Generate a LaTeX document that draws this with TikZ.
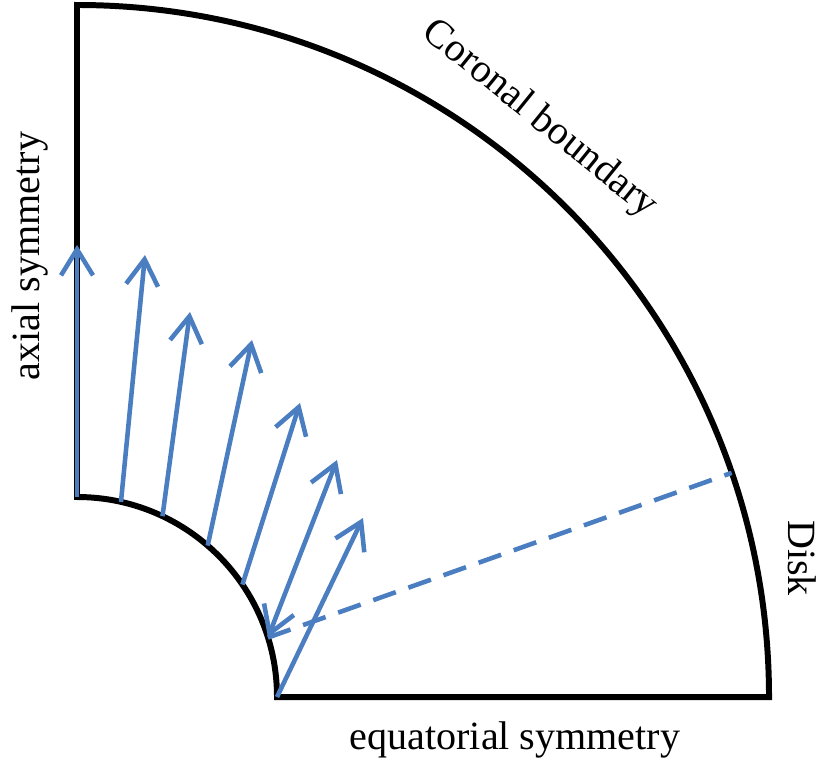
\documentclass[tikz,border=0pt]{standalone}
\usepackage{fontspec}
\setmainfont{Liberation Serif}
\usetikzlibrary{arrows.meta}
\definecolor{flowblue}{RGB}{74,126,193}

\begin{document}
\begin{tikzpicture}[
				wall/.style={line width=1.7pt,black,line join=miter},
				flow/.style={line width=1.3pt,flowblue,-{Straight Barb[length=2.6mm,width=3.2mm]}},
				both/.style={flow,{Straight Barb[length=2.6mm,width=3.2mm]}-{Straight Barb[length=2.6mm,width=3.2mm]}},
				cut/.style={line width=1.3pt,flowblue,dash pattern=on 6.8pt off 3.8pt},
				lab/.style={font=\fontsize{11.4}{13.7}\selectfont,inner sep=0pt}
				]
				\useasboundingbox (-0.77,-0.65) rectangle (7.47,6.97);
				% domain: quarter annulus
				\coordinate (O) at (0,0);
				\draw[wall] (0,2) -- (0,6.92) arc (90:0:6.92) -- (2,0) arc (0:90:2) -- cycle;
				
				% bases on the inner arc
				\coordinate (b1) at (90:2);
				\coordinate (b2) at (77.3:2);
				\coordinate (b3) at (64.7:2);
				\coordinate (b4) at (49.2:2);
				\coordinate (b5) at (34.2:2);
				\coordinate (b6) at (17.3:2);
				\coordinate (b7) at (0:2);
				% tips
				\coordinate (t1) at (0,4.52);
				\coordinate (t2) at (0.68,4.42);
				\coordinate (t3) at (1.13,3.85);
				\coordinate (t4) at (1.75,3.57);
				\coordinate (t5) at (2.23,2.94);
				\coordinate (t6) at (2.60,2.37);
				\coordinate (t7) at (2.86,1.79);
				\coordinate (d1) at (18.9:6.92);
				
				\draw[cut] (b6) -- (d1);
				\draw[flow] (b1) -- (t1);
				\draw[flow] (b2) -- (t2);
				\draw[flow] (b3) -- (t3);
				\draw[flow] (b4) -- (t4);
				\draw[flow] (b5) -- (t5);
				\draw[both] (b6) -- (t6);
				\draw[flow] (b7) -- (t7);
				
				\node[lab,rotate=-39] (corona) at (51.3:7.40) {Coronal boundary};
				\node[lab,rotate=90] (axis) at (-0.47,4.41) {axial symmetry};
				\node[lab,rotate=-90] (disk) at (7.25,1.39) {Disk};
				\node[lab] (equator) at (4.38,-0.43) {equatorial symmetry};
			\end{tikzpicture}
\end{document}
